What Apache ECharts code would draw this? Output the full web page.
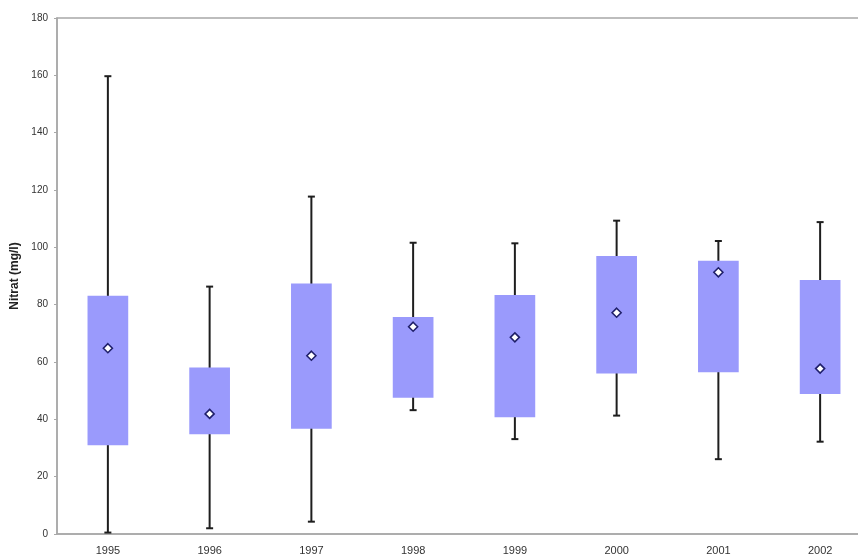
<!DOCTYPE html>
<html>
<head>
<meta charset="utf-8">
<style>
  html, body { margin: 0; padding: 0; background: #ffffff; }
  #chart { width: 858px; height: 557px; }
</style>
<script src="https://cdn.jsdelivr.net/npm/echarts@6/dist/echarts.min.js"></script>
</head>
<body>
<div id="chart"></div>
<script>
// Nitrate concentration per year: whisker ends, box edges and central marker (mg/l)
const years = ['1995', '1996', '1997', '1998', '1999', '2000', '2001', '2002'];
const whiskerLow  = [0.5, 2.0, 4.3, 43.2, 33.1, 41.3, 26.1, 32.2];
const boxLow      = [31.0, 34.8, 36.7, 47.5, 40.7, 56.0, 56.4, 48.8];
const centerValue = [64.8, 41.9, 62.2, 72.3, 68.6, 77.2, 91.3, 57.7];
const boxHigh     = [83.1, 58.1, 87.4, 75.7, 83.4, 97.0, 95.3, 88.6];
const whiskerHigh = [159.7, 86.3, 117.7, 101.6, 101.4, 109.3, 102.2, 108.8];
const yTicks = [0, 20, 40, 60, 80, 100, 120, 140, 160, 180];

const boxData = years.map((y, i) => [i, whiskerLow[i], boxLow[i], boxHigh[i], whiskerHigh[i]]);
const markerData = years.map((y, i) => [i, centerValue[i]]);

function renderBox(params, api) {
  const idx = api.value(0);
  const band = api.size([1, 0])[0];
  const boxW = band * 0.4;
  const capW = 7;
  const pLow = api.coord([idx, api.value(1)]);
  const pBoxLow = api.coord([idx, api.value(2)]);
  const pBoxHigh = api.coord([idx, api.value(3)]);
  const pHigh = api.coord([idx, api.value(4)]);
  const cx = pLow[0];
  const lineStyle = { stroke: '#1e1e1e', lineWidth: 2 };
  return {
    type: 'group',
    children: [
      { type: 'line', shape: { x1: cx, y1: pLow[1], x2: cx, y2: pHigh[1] }, style: lineStyle },
      { type: 'line', shape: { x1: cx - capW / 2, y1: pLow[1], x2: cx + capW / 2, y2: pLow[1] }, style: lineStyle },
      { type: 'line', shape: { x1: cx - capW / 2, y1: pHigh[1], x2: cx + capW / 2, y2: pHigh[1] }, style: lineStyle },
      {
        type: 'rect',
        shape: { x: cx - boxW / 2, y: pBoxHigh[1], width: boxW, height: pBoxLow[1] - pBoxHigh[1] },
        style: { fill: '#9a9afc' }
      }
    ]
  };
}

const chart = echarts.init(document.getElementById('chart'), null, { renderer: 'canvas' });
chart.setOption({
  animation: false,
  backgroundColor: '#ffffff',
  grid: {
    left: 57, top: 18, width: 814, height: 516,
    outerBoundsMode: 'none',
    containLabel: false,
    show: true, borderColor: '#a8a8a8', borderWidth: 1.5, backgroundColor: 'transparent'
  },
  xAxis: {
    type: 'category',
    data: years,
    boundaryGap: true,
    axisLine: { show: true, lineStyle: { color: '#a8a8a8', width: 1.5 } },
    axisTick: { show: false },
    axisLabel: { color: '#333333', fontSize: 11, fontFamily: 'Liberation Sans, Arial, sans-serif', margin: 11 },
    splitLine: { show: false }
  },
  yAxis: {
    type: 'value',
    min: yTicks[0],
    max: yTicks[yTicks.length - 1],
    interval: 20,
    name: 'Nitrat (mg/l)',
    nameLocation: 'middle',
    nameGap: 32,
    nameRotate: 90,
    nameTextStyle: { color: '#222222', fontSize: 12, fontWeight: 'bold', fontFamily: 'Liberation Sans, Arial, sans-serif' },
    axisLine: { show: true, lineStyle: { color: '#a8a8a8', width: 1.5 } },
    axisTick: { show: true, length: 3, inside: false, lineStyle: { color: '#a8a8a8' } },
    axisLabel: { color: '#333333', fontSize: 10, fontFamily: 'Liberation Sans, Arial, sans-serif', margin: 9 },
    splitLine: { show: false }
  },
  series: [
    {
      type: 'custom',
      renderItem: renderBox,
      data: boxData,
      encode: { x: 0, y: [1, 2, 3, 4] },
      z: 2
    },
    {
      type: 'scatter',
      data: markerData,
      symbol: 'diamond',
      symbolSize: [9, 9],
      itemStyle: { color: '#ffffff', borderColor: '#1f1f6a', borderWidth: 1.6, opacity: 1 },
      z: 3
    }
  ]
});
</script>
</body>
</html>
